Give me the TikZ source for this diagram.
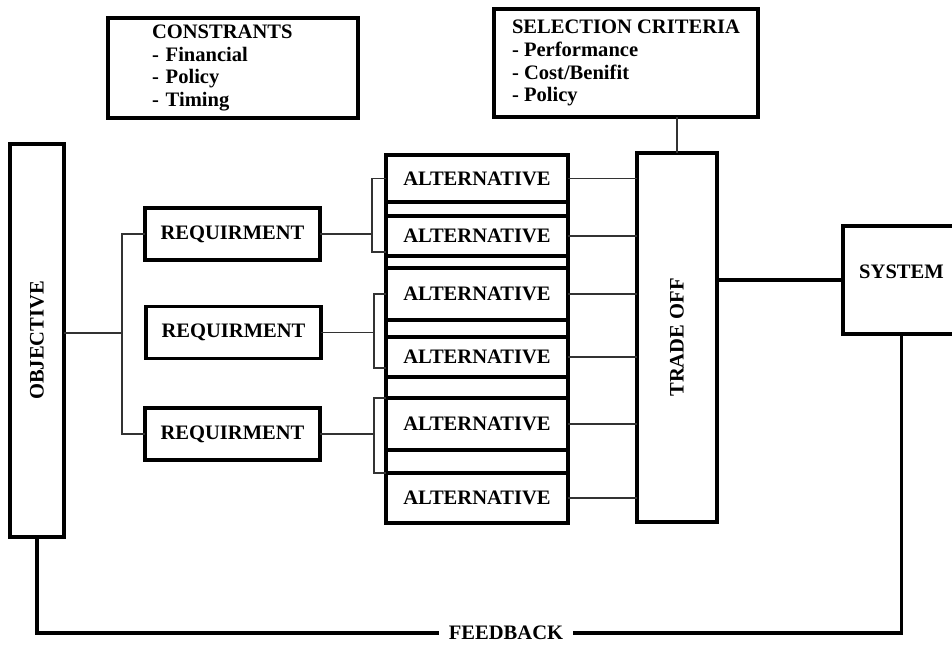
\documentclass[tikz,border=0pt]{standalone}
\usepackage{fontspec}
\setmainfont{Liberation Serif}
\usetikzlibrary{calc}
\tikzset{
  block/.style={draw, line width=2pt, fill=white, inner sep=2pt, outer sep=0pt, align=center},
  link/.style={draw=black!80, line width=0.8pt},
  heavy/.style={line width=2pt}
}

\begin{document}
\begin{tikzpicture}[x=0.02cm, y=-0.02cm, font=\fontsize{11.7pt}{13pt}\selectfont\bfseries]
\useasboundingbox (0,0) rectangle (952,645);

% --- Boxes on top ---
\node[block, minimum width=5cm, minimum height=2cm, text width=3.24cm, align=left] (cons) at (233,68)
  {CONSTRANTS\\ - Financial\\ - Policy\\ - Timing};
\node[block, minimum width=5.28cm, minimum height=2.16cm, align=left] (crit) at (626,63)
  {SELECTION CRITERIA\\ - Performance\\ - Cost/Benifit\\ - Policy};

% --- Objective and requirements ---
\node[block, minimum width=1.08cm, minimum height=7.86cm] (obj) at (37,340.5) {\rotatebox{90}{OBJECTIVE}};
\node[block, minimum width=3.5cm, minimum height=1.04cm] (req1) at (232.5,234) {REQUIRMENT};
\node[block, minimum width=3.5cm, minimum height=1.04cm] (req2) at (233.5,332.5) {REQUIRMENT};
\node[block, minimum width=3.5cm, minimum height=1.04cm] (req3) at (232.5,434) {REQUIRMENT};

% --- Alternatives stack ---
\foreach \i/\y/\h in {1/178.5/0.94, 2/236/0.8, 3/294/1.04, 4/357/0.8, 5/424/1.04, 6/498/1.0}
  \node[block, minimum width=3.64cm, minimum height=\h cm] (alt\i) at (477,\y) {ALTERNATIVE};
\draw[heavy] (alt1.north west) rectangle (alt6.south east);

% --- Trade off and system ---
\node[block, minimum width=1.6cm, minimum height=7.38cm] (trade) at (677,337.5) {\rotatebox{90}{TRADE OFF}};
\node[block, minimum width=2.34cm, minimum height=2.16cm, text depth=0.32cm] (sys) at (901.5,280) {SYSTEM};
\node[inner xsep=0.2cm, inner ysep=0pt] (fb) at (506,633) {FEEDBACK};

% --- Connectors ---
\coordinate (fork) at (122,333);
\draw[link] (fork -| obj.east) -- (fork);
\draw[link] (req1.west) -| (fork) |- (req3.west);

\coordinate (f1) at (372,0);
\coordinate (f2) at (374,0);
\draw[link] (req1.east) -- (req1.east -| f1);
\draw[link] (alt1.west) -- (alt1.west -| f1) -- ($(alt2.west -| f1)+(0,16)$) -- ($(alt2.west)+(0,16)$);
\draw[link] (req2.east) -- (req2.east -| f2);
\draw[link] (alt3.west) -- (alt3.west -| f2) -- ($(alt4.west -| f2)+(0,11)$) -- ($(alt4.west)+(0,11)$);
\draw[link] (req3.east) -- (req3.east -| f2);
\draw[link] (alt5.north west) -- (alt5.north west -| f2) -- (alt6.north west -| f2) -- (alt6.north west);

\foreach \i in {1,...,6}
  \draw[link] (alt\i.east) -- (alt\i.east -| trade.west);
\draw[link] (crit.south -| trade.north) -- (trade.north);

\draw[heavy] (sys.west) -- (sys.west -| trade.east);
\draw[heavy] (obj.south) |- (fb.west);
\draw[heavy] (fb.east) -| (sys.south);

\end{tikzpicture}
\end{document}
